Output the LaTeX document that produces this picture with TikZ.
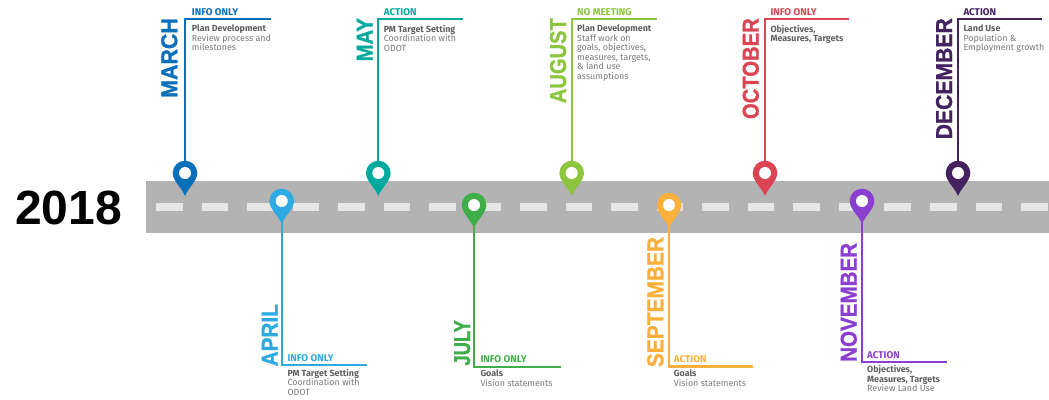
\documentclass[tikz,border=0pt]{standalone}
\usepackage{fontspec}
\setmainfont{Fira Sans}
\newfontfamily\monthfont{Liberation Sans}[BoldFeatures={FakeBold=1.2}]
\newfontfamily\yearfont{Liberation Sans}
\usetikzlibrary{calc,positioning}
\definecolor{cmarch}{HTML}{0B6FBA}
\definecolor{capril}{HTML}{2DAAE1}
\definecolor{cmay}{HTML}{00A99D}
\definecolor{cjuly}{HTML}{3FAE49}
\definecolor{caugust}{HTML}{8CC63F}
\definecolor{csept}{HTML}{FBB03B}
\definecolor{coct}{HTML}{DA4453}
\definecolor{cnov}{HTML}{8A3FD1}
\definecolor{cdec}{HTML}{44215F}
\definecolor{croad}{HTML}{B3B3B3}
\definecolor{cdash}{HTML}{E6E6E6}
\definecolor{chead}{HTML}{5F5F5F}
\definecolor{cbody}{HTML}{7A7A7A}
\newcommand{\hd}[1]{{\bfseries\color{chead}#1}}
\tikzset{lead/.style={line width=2.2pt,line cap=butt,line join=miter}}
\tikzset{hole/.style={circle,fill=white,inner sep=0pt,minimum size=12pt}}
\tikzset{month/.style={rotate=90,xscale=#1,anchor=base east,inner sep=0pt,font=\monthfont\fontsize{23}{23}\selectfont\bfseries}}
\tikzset{tag/.style={anchor=base west,inner sep=0pt,font=\fontsize{9.8}{9.6}\selectfont\bfseries}}
\tikzset{body/.style={anchor=north west,inner sep=0pt,align=left,text=cbody,font=\fontsize{8.9}{9.6}\selectfont}}
\tikzset{roadpin/.pic={\fill (0,23) .. controls (-3,15) and (-12.3,8) .. (-12.3,0) arc (180:360:12.3) .. controls (12.3,8) and (3,15) .. (0,23) -- cycle;}}
\begin{document}
\begin{tikzpicture}[x=1pt,y=-1pt]
      \useasboundingbox (0,0) rectangle (1049,399);
      % road
      \fill[croad] (146,181) rectangle (1049,233);
      \foreach \k in {0,...,19}
        \fill[cdash] ({156+45.53*\k},203) rectangle ++(26.5,8);
      \node[inner sep=0pt,font=\yearfont\fontsize{48}{48}\selectfont\bfseries] (year) at (68.5,208) {2018};
      % pins
      \pic[cmarch] at (185,173) {roadpin};
      \pic[capril] at (281.7,201) {roadpin};
      \pic[cmay] at (378.3,173) {roadpin};
      \pic[cjuly] at (474,205) {roadpin};
      \pic[caugust] at (571.7,173) {roadpin};
      \pic[csept] at (669,205) {roadpin};
      \pic[coct] at (765,173) {roadpin};
      \pic[cnov] at (862,201) {roadpin};
      \pic[cdec] at (958,173) {roadpin};
      \node[hole] (march) at (185,173) {};
      \node[hole] (april) at (281.7,201) {};
      \node[hole] (may) at (378.3,173) {};
      \node[hole] (july) at (474,205) {};
      \node[hole] (august) at (571.7,173) {};
      \node[hole] (sept) at (669,205) {};
      \node[hole] (oct) at (765,173) {};
      \node[hole] (nov) at (862,201) {};
      \node[hole] (dec) at (958,173) {};
      % corners and ends of the leads
      \coordinate (marchc) at (185,19);
      \coordinate (marche) at (271,19);
      \coordinate (aprilc) at (281.7,365);
      \coordinate (aprile) at (367,365);
      \coordinate (mayc) at (378.3,19);
      \coordinate (maye) at (463,19);
      \coordinate (julyc) at (474,367);
      \coordinate (julye) at (561,367);
      \coordinate (augustc) at (571.7,19);
      \coordinate (auguste) at (657,19);
      \coordinate (septc) at (669,366.5);
      \coordinate (septe) at (753,366.5);
      \coordinate (octc) at (765,19);
      \coordinate (octe) at (849,19);
      \coordinate (novc) at (862,362);
      \coordinate (nove) at (947,362);
      \coordinate (decc) at (958,19);
      \coordinate (dece) at (1042,19);
      \draw[lead,cmarch] (march) -- (marchc) -- (marche);
      \draw[lead,capril] (april) -- (aprilc) -- (aprile);
      \draw[lead,cmay] (may) -- (mayc) -- (maye);
      \draw[lead,cjuly] (july) -- (julyc) -- (julye);
      \draw[lead,caugust] (august) -- (augustc) -- (auguste);
      \draw[lead,csept] (sept) -- (septc) -- (septe);
      \draw[lead,coct] (oct) -- (octc) -- (octe);
      \draw[lead,cnov] (nov) -- (novc) -- (nove);
      \draw[lead,cdec] (dec) -- (decc) -- (dece);
      % months
      \node[month=.93,text=cmarch] (mmarch) at (177.3,18) {MARCH};
      \node[month=.9,text=capril] (mapril) at (277.7,304) {APRIL};
      \node[month=.88,text=cmay] (mmay) at (372.7,18) {MAY};
      \node[month=.8,text=cjuly] (mjuly) at (470,320) {JULY};
      \node[month=.875,text=caugust] (maugust) at (566,18) {AUGUST};
      \node[month=.91,text=csept] (msept) at (663.3,236.7) {SEPTEMBER};
      \node[month=.88,text=coct] (moct) at (758.7,18) {OCTOBER};
      \node[month=.895,text=cnov] (mnov) at (856.7,242.7) {NOVEMBER};
      \node[month=.92,text=cdec] (mdec) at (952,18) {DECEMBER};
      % tags
      \node[tag,text=cmarch] (tmarch) at (191.7,15) {INFO ONLY};
      \node[tag,text=capril] (tapril) at (287.3,361) {INFO ONLY};
      \node[tag,text=cmay] (tmay) at (383.7,15) {ACTION};
      \node[tag,text=cjuly] (tjuly) at (480.3,362.7) {INFO ONLY};
      \node[tag,text=caugust] (taugust) at (577,15) {NO MEETING};
      \node[tag,text=csept] (tsept) at (673.7,362.7) {ACTION};
      \node[tag,text=coct] (toct) at (770.3,15) {INFO ONLY};
      \node[tag,text=cnov] (tnov) at (867,358.7) {ACTION};
      \node[tag,text=cdec] (tdec) at (963.3,15) {ACTION};
      % details
      \node[body] (bmarch) at (191.7,24.6) {\hd{Plan Development}\\Review process and\\milestones};
      \node[body] (bapril) at (287.3,368.6) {\hd{PM Target Setting}\\Coordination with\\ODOT};
      \node[body] (bmay) at (383.7,24.6) {\hd{PM Target Setting}\\Coordination with\\ODOT};
      \node[body] (bjuly) at (480.3,369.6) {\hd{Goals}\\Vision statements};
      \node[body] (baugust) at (577,24.6) {\hd{Plan Development}\\Staff work on\\goals, objectives,\\measures, targets,\\\& land use\\assumptions};
      \node[body] (bsept) at (673.7,369.6) {\hd{Goals}\\Vision statements};
      \node[body] (boct) at (770.3,24.6) {\hd{Objectives,}\\\hd{Measures, Targets}};
      \node[body] (bnov) at (867,365.3) {\hd{Objectives,}\\\hd{Measures, Targets}\\Review Land Use};
      \node[body] (bdec) at (963.3,24.6) {\hd{Land Use}\\Population \&\\Employment growth};
    \end{tikzpicture}
\end{document}
